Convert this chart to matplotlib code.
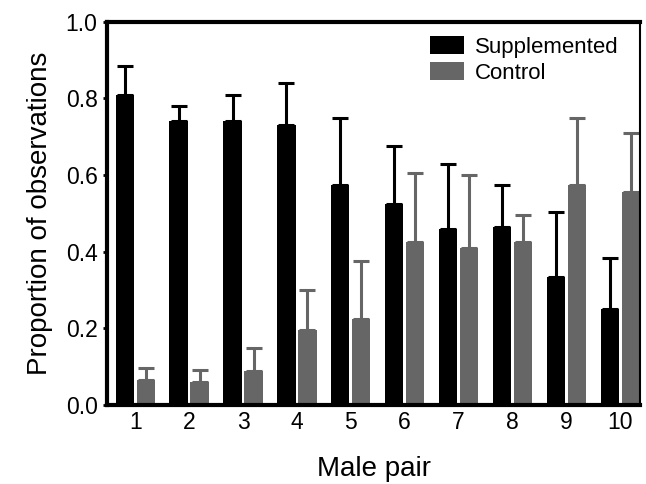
import matplotlib
matplotlib.use("Agg")
import matplotlib.pyplot as plt
import numpy as np

plt.rcParams['font.family'] = ['Liberation Sans', 'DejaVu Sans']

pairs = [1, 2, 3, 4, 5, 6, 7, 8, 9, 10]
supplemented = [0.81, 0.74, 0.74, 0.73, 0.575, 0.525, 0.46, 0.465, 0.335, 0.25]
supp_err = [0.075, 0.04, 0.07, 0.11, 0.175, 0.15, 0.17, 0.11, 0.17, 0.135]
control = [0.065, 0.06, 0.09, 0.195, 0.225, 0.425, 0.41, 0.425, 0.575, 0.555]
ctrl_err = [0.032, 0.032, 0.06, 0.105, 0.15, 0.18, 0.19, 0.07, 0.173, 0.155]

x = np.array(pairs)
w = 0.34
off = 0.195

fig = plt.figure(figsize=(6.46, 4.84), dpi=100)
ax = fig.add_axes([0.166, 0.163, 0.825, 0.792])

ax.bar(x - off, supplemented, w, color='black', label='Supplemented',
       yerr=[np.zeros(10), supp_err], error_kw=dict(ecolor='black', elinewidth=2.2, capsize=6, capthick=2.2))
ax.bar(x + off, control, w, color='#666666', label='Control',
       yerr=[np.zeros(10), ctrl_err], error_kw=dict(ecolor='#666666', elinewidth=2.2, capsize=6, capthick=2.2))

ax.set_xlim(0.48, 10.37)
ax.set_ylim(0, 1.0)
ax.set_xticks(x)
ax.set_xticklabels([str(p) for p in pairs])
ax.set_yticks([0.0, 0.2, 0.4, 0.6, 0.8, 1.0])
ax.set_yticklabels(['0.0', '0.2', '0.4', '0.6', '0.8', '1.0'])
ax.tick_params(axis='x', length=0, labelsize=16.5, pad=4)
ax.tick_params(axis='y', length=3, width=2, labelsize=16.5, direction='out', pad=4)

for s in ['left', 'bottom', 'top']:
    ax.spines[s].set_linewidth(3)
ax.spines['right'].set_linewidth(1.5)

ax.set_xlabel('Male pair', fontsize=20, labelpad=16)
ax.set_ylabel('Proportion of observations', fontsize=20, labelpad=9)

ax.legend(loc='upper right', frameon=False, fontsize=16, handlelength=1.53, handleheight=0.9,
          handletextpad=0.5, labelspacing=0.2, borderpad=0.4, borderaxespad=0,
          bbox_to_anchor=(0.976, 0.987))

fig.savefig('out.png', dpi=100)
